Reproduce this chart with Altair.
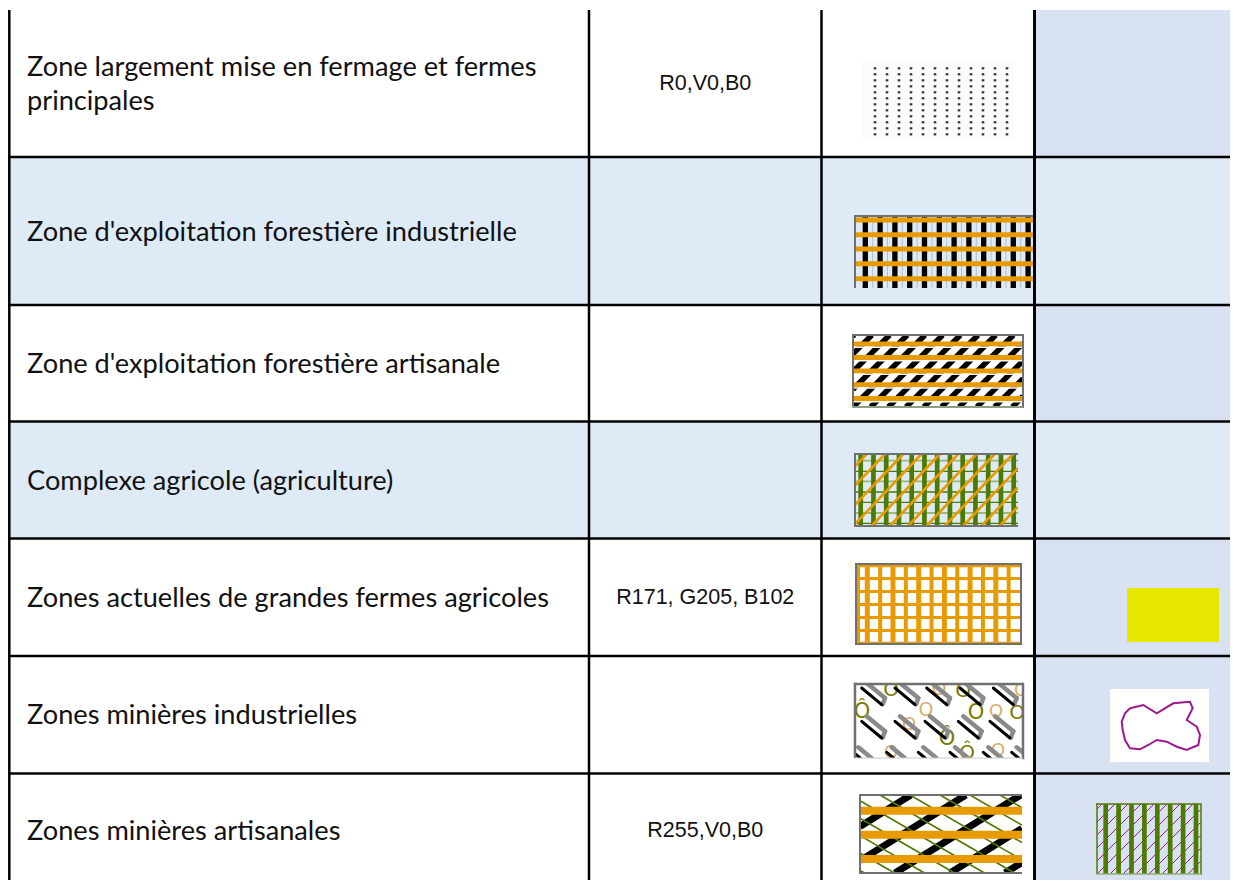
import altair as alt
import pandas as pd

# ---------------- table content ----------------
zone_lines = [
    ["Zone largement mise en fermage et fermes", "principales"],
    ["Zone d'exploitation forestière industrielle"],
    ["Zone d'exploitation forestière artisanale"],
    ["Complexe agricole (agriculture)"],
    ["Zones actuelles de grandes fermes agricoles"],
    ["Zones minières industrielles"],
    ["Zones minières artisanales"],
]
rgb_codes = ["R0,V0,B0", "", "", "", "R171, G205, B102", "", "R255,V0,B0"]

# table layout (page pixels)
row_edges = [10, 157, 305, 421.5, 538.5, 656, 773.5, 888]
col_edges = [8, 589, 821.5, 1034.5, 1238]
banded_rows = [1, 3]
text_left = 27
line_gap = 34
label_dy = 3.5
code_dy = 2.5

# colours
WHITE = "#FFFFFF"
BAND = "#DEEAF6"
COL4 = "#D9E2F3"
ORANGE = "#E89B00"
GREEN = "#4E7A00"
LIGHTGREEN = "#9DB87A"
GRAY = "#707070"
BLACK = "#000000"
MAGENTA = "#9B1A8C"
YELLOW = "#E6E600"
OLIVE = "#7A7A00"
TAN = "#D8AE6A"

# swatch boxes (x0, y0, x1, y1)
box_dots = (862, 62, 1014, 138)
box_forest_ind = (855, 216, 1033, 288)
box_forest_art = (853, 335, 1023, 407)
box_agri = (855, 454, 1018, 526)
box_farms = (856, 564, 1021, 644)
box_mines_ind = (855, 684, 1023, 758)
box_mines_art = (860, 795, 1022, 873)
box_green = (1097, 804, 1201, 874)
box_yellow = (1127, 588, 1219, 642)
box_white = (1110, 689, 1209, 762)

# pattern parameters
dot_cols = [875 + 12 * i for i in range(12)]
dot_rows = [68.3 + 6.0 * j for j in range(12)]
fi_bars = [865.3 + 14.8 * i for i in range(12)]
fi_stripes = [220, 234.7, 249, 263.7, 278.7]
fa_stripes = [344, 357.5, 371, 384.7, 398.5]
fa_hatch_step = 17.7
ag_bars = [860.7 + 12.75 * i for i in range(13)]
ag_hlines = [460.7, 471.3, 481.3, 492, 502.3, 513, 523.3]
ag_hcolors = [LIGHTGREEN, GREEN, LIGHTGREEN, GREEN, GREEN, LIGHTGREEN, GREEN]
ag_diag_step = 18.3
fm_vbars = [858] + [867.3 + 12.85 * i for i in range(13)]
fm_hbars = [565.7, 578.5, 591.5, 604.5, 617.5, 630.5, 643.3]
mi_clips = [(871.7, 694.7), (905, 694.7), (936.7, 694.7), (970, 694.7), (1003.3, 694.7),
            (871.7, 728), (905, 728), (935, 728), (968.3, 728), (1000, 728),
            (863.3, 759), (896.7, 759), (928.3, 759), (960, 759), (993.3, 759), (1021.7, 759)]
mi_letters = [("Ô", 862, 712, OLIVE, 21), ("O", 891, 690, OLIVE, 20), ("O", 939, 689, TAN, 19),
              ("O", 926, 710, TAN, 19), ("O", 963, 691, OLIVE, 20), ("O", 976, 713, OLIVE, 21),
              ("O", 996, 712, TAN, 18), ("O", 1017, 713, OLIVE, 20), ("O", 909, 725, TAN, 18),
              ("Ô", 947, 739, OLIVE, 21), ("O", 891, 753, TAN, 18), ("Ô", 967, 753, OLIVE, 20),
              ("O", 998, 751, TAN, 18), ("O", 1021, 691, TAN, 18)]
ma_stripes = [810.7, 834.7, 859]
ma_black_step = 55
ma_green_step = 30
gr_bars = [1105.7 + 12.9 * i for i in range(8)]
gr_diag_step = 13
blob_x = [1130, 1143.3, 1156.7, 1173.3, 1190, 1192.7, 1186.7, 1196.7, 1200, 1198.3, 1186.7,
          1176.7, 1166.7, 1156.7, 1148.3, 1140, 1130, 1125, 1122.7, 1121.7, 1125, 1130]
blob_y = [708.3, 705, 713.3, 703.3, 701.7, 708.3, 720, 726.7, 735, 745, 750,
          746.7, 741.7, 740, 745, 749.3, 748.3, 740, 730, 721.7, 713.3, 708.3]

# ---------------- build geometry ----------------
def clip(x1, y1, x2, y2, box):
    xmin, ymin, xmax, ymax = box
    dx, dy = x2 - x1, y2 - y1
    u1, u2 = 0.0, 1.0
    for p, q in ((-dx, x1 - xmin), (dx, xmax - x1), (-dy, y1 - ymin), (dy, ymax - y1)):
        if p == 0:
            if q < 0:
                return None
        else:
            t = q / p
            if p < 0:
                u1 = max(u1, t)
            else:
                u2 = min(u2, t)
    if u1 >= u2:
        return None
    return (x1 + u1 * dx, y1 + u1 * dy, x1 + u2 * dx, y1 + u2 * dy)

rects = []
def rect(box, c):
    rects.append(dict(x=box[0], y=box[1], x2=box[2], y2=box[3], c=c))

pattern = []
round_rules = []
frames = []
def seg(lst, x1, y1, x2, y2, c, w, box=None):
    if box is not None:
        r = clip(x1, y1, x2, y2, box)
        if r is None:
            return
        x1, y1, x2, y2 = r
    lst.append(dict(x=x1, y=y1, x2=x2, y2=y2, c=c, w=w))

def cell_color(r, c):
    if r in banded_rows:
        return BAND
    return COL4 if c == 3 else WHITE

# cell backgrounds
for r in range(7):
    for c in range(4):
        rect((col_edges[c], row_edges[r], col_edges[c + 1], row_edges[r + 1]), cell_color(r, c))

# swatch backgrounds
rect(box_dots, "#FBFBFB")
rect(box_forest_art, WHITE)
rect(box_farms, WHITE)
rect(box_mines_ind, WHITE)
rect(box_mines_art, WHITE)
rect(box_yellow, YELLOW)
rect(box_white, WHITE)

# S1 dots
for x in dot_cols:
    for y in dot_rows:
        seg(pattern, x - 1.3, y, x + 1.3, y, "#333333", 2.2)

# S2 forest industrial
b = box_forest_ind
for x in fi_bars:
    seg(pattern, x + 7.4, b[1], x + 7.4, b[3], "#AFC0CC", 1)
    seg(pattern, x, b[1], x, b[3], BLACK, 5.3)
for y in fi_stripes:
    seg(pattern, b[0], y, b[2], y, ORANGE, 5)

# S3 forest artisanal
b = box_forest_art
h = b[3] - b[1]
for k in range(-6, 12):
    xb = b[0] + fa_hatch_step * k
    seg(pattern, xb, b[3], xb + h, b[1], BLACK, 5.5, b)
for y in fa_stripes:
    seg(pattern, b[0], y, b[2], y, ORANGE, 5)
    seg(pattern, b[0], y + 3.3, b[2], y + 3.3, WHITE, 1.6)

# S4 agriculture complex
b = box_agri
for y, cc in zip(ag_hlines, ag_hcolors):
    seg(pattern, b[0], y, b[2], y, cc, 1.8 if cc == LIGHTGREEN else 1.3)
for x in ag_bars:
    seg(pattern, x, b[1], x, b[3], GREEN, 4.7)
h = b[3] - b[1]
for k in range(-2, 14):
    xt = 866.7 + ag_diag_step * k
    seg(pattern, xt, b[1], xt - h * 0.95, b[3], ORANGE, 2.6, b)

# S5 farms
b = box_farms
for i, x in enumerate(fm_vbars):
    seg(pattern, x, b[1], x, b[3], ORANGE, 5 if i % 2 else 4, b)
for y in fm_hbars:
    seg(pattern, b[0], y, b[2], y, ORANGE, 3)

# S6 mines industrial (paperclips), clipped to the swatch
b = box_mines_ind
for cx, cy in mi_clips:
    seg(round_rules, cx - 5, cy - 11.7, cx + 13.3, cy + 3.3, "#8A8A8A", 4.5, b)
    seg(round_rules, cx + 13.3, cy + 3.3, cx + 11, cy + 9.5, "#8A8A8A", 4.5, b)
    seg(round_rules, cx - 10, cy - 6.7, cx + 10, cy + 10, BLACK, 3, b)

# S7 mines artisanal
b = box_mines_art
h = b[3] - b[1]
for k in range(-4, 5):
    xb = b[0] - 20 + ma_black_step * k
    seg(pattern, xb, b[3], xb + h / 0.62, b[1], BLACK, 7, b)
for k in range(-6, 7):
    xt = b[0] - 10 + ma_green_step * k
    seg(pattern, xt, b[1], xt + h / 0.58, b[3], GREEN, 1.6, b)
for y in ma_stripes:
    seg(pattern, b[0], y, b[2], y, ORANGE, 8)

# col 4 green swatch
b = box_green
h = b[3] - b[1]
for k in range(-7, 9):
    yb = b[3] + gr_diag_step * k
    seg(pattern, b[0], yb, b[0] + h * 1.6, yb - h * 1.6, MAGENTA, 1, b)
for x in gr_bars:
    seg(pattern, x, b[1], x, b[3], GREEN, 4.7)

# masks (cell colour) around swatches with overflow
def mask(box, c):
    x0, y0, x1, y1 = box
    seg(frames, x0 - 10, y0 - 6, x1 + 10, y0 - 6, c, 12)
    seg(frames, x0 - 10, y1 + 6, x1 + 10, y1 + 6, c, 12)
    seg(frames, x0 - 6, y0 - 10, x0 - 6, y1 + 10, c, 12)
    seg(frames, x1 + 6, y0 - 10, x1 + 6, y1 + 10, c, 12)

mask(box_forest_art, WHITE)
mask(box_agri, BAND)
mask(box_mines_ind, WHITE)
mask(box_mines_art, WHITE)
mask(box_green, COL4)

# swatch borders
def border(box, sides, c, w, bottom_c=None):
    x0, y0, x1, y1 = box
    if "l" in sides:
        seg(frames, x0, y0 - w / 2, x0, y1, c, w)
    if "t" in sides:
        seg(frames, x0 - w / 2, y0, x1, y0, c, w)
    if "r" in sides:
        seg(frames, x1, y0 - w / 2, x1, y1 + w / 2, c, w)
    if "b" in sides:
        seg(frames, x0 - w / 2, y1, x1, y1, bottom_c or c, w)

border(box_forest_ind, "lt", GRAY, 2)
border(box_forest_art, "ltrb", GRAY, 2, "#8E9C88")
border(box_agri, "ltb", GRAY, 2)
border(box_farms, "ltrb", GRAY, 2)
border(box_mines_ind, "ltr", GRAY, 2.5)
border(box_mines_ind, "b", "#C8C8C8", 1)
border(box_mines_art, "ltb", GRAY, 2)
border(box_green, "ltr", GREEN, 1.5)
border(box_green, "b", "#8FB070", 1.5)

# table grid
for i, x in enumerate(col_edges[:4]):
    xx = x + 1.3 if i == 0 else x
    seg(frames, xx, row_edges[0], xx, row_edges[-1], BLACK, 2.5 if i < 3 else 3)
for y in row_edges[1:-1]:
    seg(frames, col_edges[0], y, col_edges[-1], y, BLACK, 2.5)

# texts
label_rows = []
for r, lines in enumerate(zone_lines):
    mid = (row_edges[r] + row_edges[r + 1]) / 2 - 2 + label_dy
    n = len(lines)
    for j, t in enumerate(lines):
        label_rows.append(dict(x=text_left, y=mid + (j - (n - 1) / 2) * line_gap, t=t))
code_rows = []
for r, t in enumerate(rgb_codes):
    if t:
        code_rows.append(dict(x=(col_edges[1] + col_edges[2]) / 2,
                              y=(row_edges[r] + row_edges[r + 1]) / 2 - 2 + code_dy, t=t))
letters = [dict(t=t, x=x, y=y, c=c, s=s) for t, x, y, c, s in mi_letters]
blob = pd.DataFrame(dict(x=blob_x, y=blob_y, i=list(range(len(blob_x)))))

# ---------------- chart ----------------
# the view is exactly W x H at the page's 8px margin; nothing grows it
W, H = 1222, 872
xs = alt.Scale(domain=[8, 8 + W], nice=False, zero=False)
ys = alt.Scale(domain=[8, 8 + H], nice=False, zero=False, reverse=True)
X = alt.X("x:Q", scale=xs, axis=None)
Y = alt.Y("y:Q", scale=ys, axis=None)

def rule_layer(rows, cap="butt"):
    return alt.Chart(pd.DataFrame(rows)).mark_rule(strokeCap=cap, clip=True).encode(
        x=X, y=Y, x2="x2:Q", y2="y2:Q",
        color=alt.Color("c:N", scale=None),
        strokeWidth=alt.StrokeWidth("w:Q", scale=None),
    )

bg = alt.Chart(pd.DataFrame(rects)).mark_rect(strokeWidth=0, clip=True).encode(
    x=X, y=Y, x2="x2:Q", y2="y2:Q", color=alt.Color("c:N", scale=None))

letters_layer = alt.Chart(pd.DataFrame(letters)).mark_text(
    font="DejaVu Sans", baseline="middle", align="center").encode(
    x=X, y=Y, text="t:N", color=alt.Color("c:N", scale=None),
    size=alt.Size("s:Q", scale=None))

blob_layer = alt.Chart(blob).mark_line(color=MAGENTA, strokeWidth=2).encode(
    x=X, y=Y, order="i:Q")

labels = alt.Chart(pd.DataFrame(label_rows)).mark_text(
    font="Lato", fontSize=27.2, align="left", baseline="middle", color="#111111").encode(
    x=X, y=Y, text="t:N")

codes = alt.Chart(pd.DataFrame(code_rows)).mark_text(
    font="Liberation Sans", fontSize=21.5, align="center", baseline="middle", color="#111111").encode(
    x=X, y=Y, text="t:N")

chart = alt.layer(
    bg,
    rule_layer(pattern),
    letters_layer,
    rule_layer(round_rules, "round"),
    rule_layer(frames),
    blob_layer,
    labels,
    codes,
).properties(
    width=W, height=H, padding=0, background="white",
    autosize=alt.AutoSizeParams(type="none"),
).configure_view(stroke=None)

chart.save("out.html", embed_options={"renderer": "svg", "actions": False})
